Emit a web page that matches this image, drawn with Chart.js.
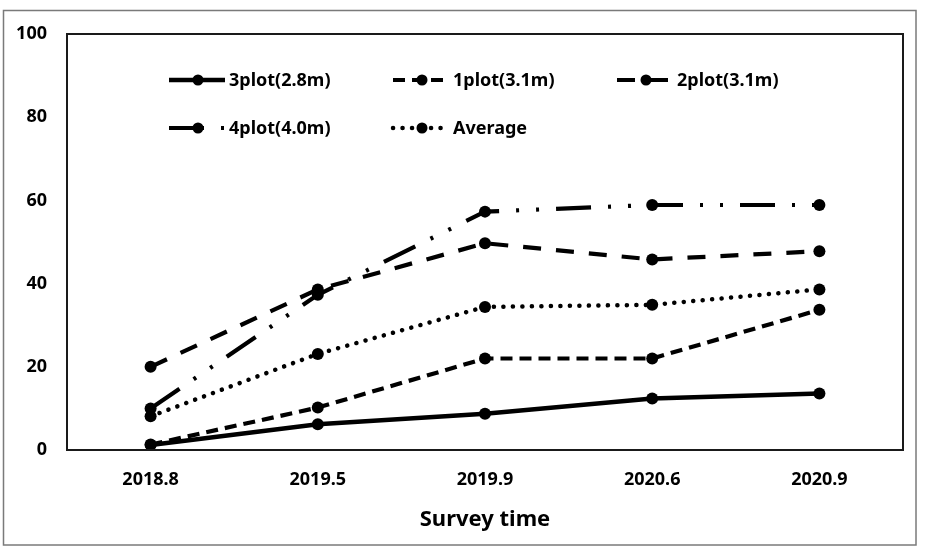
<!DOCTYPE html>
<html>
<head>
<meta charset="utf-8">
<script src="https://cdn.jsdelivr.net/npm/chart.js@4.4.1/dist/chart.umd.min.js"></script>
<style>
  html, body { margin: 0; padding: 0; background: #fff; }
  #wrap { position: relative; width: 936px; height: 547px; }
</style>
</head>
<body>
<div id="wrap"><canvas id="c"></canvas></div>
<script>
const categories = ['2018.8', '2019.5', '2019.9', '2020.6', '2020.9'];
const plot3 = [1.2, 6.2, 8.7, 12.4, 13.6];
const plot1 = [1.3, 10.2, 22.0, 22.0, 33.7];
const plot2 = [20.0, 38.6, 49.7, 45.8, 47.8];
const plot4 = [10.0, 37.3, 57.3, 58.9, 58.9];
const average = [8.1, 23.1, 34.4, 34.9, 38.6];
const seriesNames = ['3plot(2.8m)', '1plot(3.1m)', '2plot(3.1m)', '4plot(4.0m)', 'Average'];
const yTicks = [0, 20, 40, 60, 80, 100];

const FONT = '"Noto Sans", "Open Sans", sans-serif';

function ds(label, data, width, dash, cap) {
  return {
    label, data,
    borderColor: '#000', backgroundColor: '#000',
    borderWidth: width, borderDash: dash, borderCapStyle: cap || 'butt',
    pointRadius: 6, pointHoverRadius: 6,
    pointBackgroundColor: '#000', pointBorderColor: '#000', pointBorderWidth: 0,
    tension: 0, fill: false
  };
}

const datasets = [
  ds(seriesNames[0], plot3, 4.5, []),
  ds(seriesNames[1], plot1, 4.2, [12, 7]),
  ds(seriesNames[2], plot2, 4.2, [18, 15]),
  ds(seriesNames[3], plot4, 4.2, [35, 17, 3, 17, 3, 17]),
  ds(seriesNames[4], average, 4.5, [0.1, 9.4], 'round')
];

const framePlugin = {
  id: 'frame',
  beforeDraw(chart) {
    const ctx = chart.ctx;
    ctx.save();
    ctx.fillStyle = '#fff';
    ctx.fillRect(0, 0, chart.width, chart.height);
    ctx.strokeStyle = '#7a7a7a';
    ctx.lineWidth = 1.5;
    ctx.strokeRect(3.5, 10.5, 912.5, 534.5);
    ctx.restore();
  },
  afterDraw(chart) {
    const a = chart.chartArea, ctx = chart.ctx;
    ctx.save();
    ctx.strokeStyle = '#1a1a1a';
    ctx.lineWidth = 2;
    ctx.strokeRect(a.left, a.top, a.right - a.left, a.bottom - a.top);
    ctx.restore();
  }
};

const legendPlugin = {
  id: 'customLegend',
  afterDatasetsDraw(chart) {
    const a = chart.chartArea, ctx = chart.ctx;
    const cols = [a.left + 102, a.left + 326, a.left + 550];
    const rows = [a.top + 46, a.top + 94];
    ctx.save();
    chart.data.datasets.forEach((d, i) => {
      const x = cols[i % 3], y = rows[Math.floor(i / 3)];
      ctx.strokeStyle = '#000';
      ctx.lineWidth = d.borderWidth;
      ctx.lineCap = d.borderCapStyle;
      ctx.setLineDash(d.borderDash);
      ctx.lineDashOffset = 0;
      ctx.beginPath();
      ctx.moveTo(x, y);
      ctx.lineTo(x + 56, y);
      ctx.stroke();
      ctx.setLineDash([]);
      ctx.fillStyle = '#000';
      ctx.beginPath();
      ctx.arc(x + 29, y, 5.5, 0, Math.PI * 2);
      ctx.fill();
      ctx.font = 'bold 18px ' + FONT;
      ctx.textBaseline = 'middle';
      ctx.textAlign = 'left';
      ctx.fillText(d.label, x + 60, y + 1);
    });
    ctx.restore();
  }
};

new Chart(document.getElementById('c'), {
  type: 'line',
  data: { labels: categories, datasets },
  plugins: [framePlugin, legendPlugin],
  options: {
    responsive: true,
    maintainAspectRatio: false,
    animation: false,
    events: [],
    layout: { padding: { left: 0, right: 33, top: 34, bottom: 0 } },
    plugins: { legend: { display: false }, tooltip: { enabled: false }, title: { display: false } },
    scales: {
      x: {
        type: 'category',
        offset: true,
        grid: { display: false, drawTicks: false },
        border: { display: false },
        ticks: { color: '#000', font: { family: FONT, size: 18, weight: 'bold' }, padding: 19, maxRotation: 0 },
        title: { display: true, text: 'Survey time', color: '#000', font: { family: FONT, size: 22, weight: 'bold' }, padding: { top: 4, bottom: 14 } },
        afterFit(scale) { scale.height = 97; }
      },
      y: {
        min: 0, max: 100,
        afterBuildTicks(scale) { scale.ticks = yTicks.map(v => ({ value: v })); },
        grid: { display: false, drawTicks: false },
        border: { display: false },
        ticks: { color: '#000', font: { family: FONT, size: 18, weight: 'bold' }, padding: 20 },
        afterFit(scale) { scale.width = 67; }
      }
    }
  }
});
</script>
</body>
</html>
